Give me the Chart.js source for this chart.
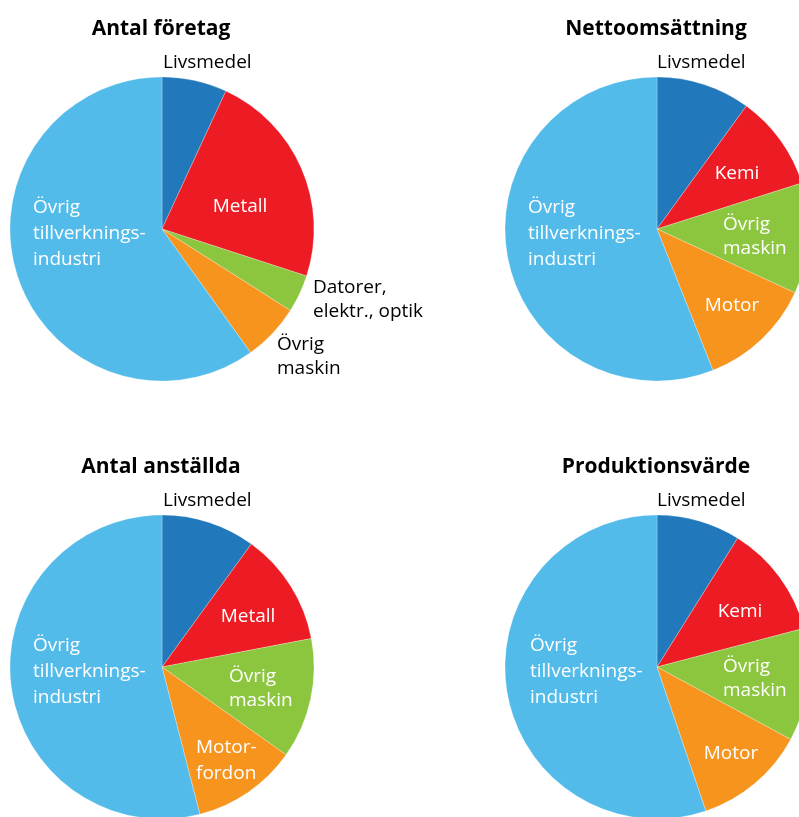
<!DOCTYPE html>
<html lang="sv">

<head>
    <meta charset="UTF-8" />
    <title>Tillverkningsindustri</title>
    <script src="https://cdn.jsdelivr.net/npm/chart.js"></script>
    <style>
        html,
        body {
            margin: 0;
            width: 799px;
            height: 817px;
            overflow: hidden;
            background: #fff;
        }

        body {
            position: relative;
        }

        canvas {
            position: absolute;
        }

        #c1 { left: -38px; top: 0; }
        #c2 { left: 457px; top: 0; }
        #c3 { left: -38px; top: 438px; }
        #c4 { left: 457px; top: 438px; }
    </style>
</head>

<body>
    <canvas id="c1" width="500" height="400"></canvas>
    <canvas id="c2" width="500" height="400"></canvas>
    <canvas id="c3" width="500" height="400"></canvas>
    <canvas id="c4" width="500" height="400"></canvas>

    <script>
        // ===== Data (andel i procent, avläst) =====
        const titles = ['Antal företag', 'Nettoomsättning', 'Antal anställda', 'Produktionsvärde'];

        const categories1 = ['Livsmedel', 'Metall', 'Datorer, elektr., optik', 'Övrig maskin', 'Övrig tillverkningsindustri'];
        const categories2 = ['Livsmedel', 'Kemi', 'Övrig maskin', 'Motor', 'Övrig tillverkningsindustri'];
        const categories3 = ['Livsmedel', 'Metall', 'Övrig maskin', 'Motorfordon', 'Övrig tillverkningsindustri'];
        const categories4 = ['Livsmedel', 'Kemi', 'Övrig maskin', 'Motor', 'Övrig tillverkningsindustri'];

        const values1 = [6.9, 23.1, 4.0, 6.1, 59.9];
        const values2 = [10.0, 10.1, 11.8, 12.1, 56.0];
        const values3 = [10.0, 12.0, 12.8, 11.2, 54.0];
        const values4 = [8.9, 12.0, 12.0, 11.9, 55.2];

        // etiketter som de står i bilden
        const lines1 = [['Livsmedel'], ['Metall'], ['Datorer,', 'elektr., optik'], ['Övrig', 'maskin'], ['Övrig', 'tillverknings-', 'industri']];
        const lines2 = [['Livsmedel'], ['Kemi'], ['Övrig', 'maskin'], ['Motor'], ['Övrig', 'tillverknings-', 'industri']];
        const lines3 = [['Livsmedel'], ['Metall'], ['Övrig', 'maskin'], ['Motor-', 'fordon'], ['Övrig', 'tillverknings-', 'industri']];
        const lines4 = [['Livsmedel'], ['Kemi'], ['Övrig', 'maskin'], ['Motor'], ['Övrig', 'tillverknings-', 'industri']];

        const colors = ['#2179bc', '#ed1c24', '#8cc63f', '#f7941d', '#52bbea'];

        // ===== Placering av etiketter (relativt cirkelns mitt) =====
        const place1 = [
            { dx: 1, dy: -161, align: 'left', inside: false, lh: 24 },
            { dx: 78, dy: -17, align: 'center', inside: true, lh: 24 },
            { dx: 151, dy: 64, align: 'left', inside: false, lh: 24 },
            { dx: 115, dy: 121, align: 'left', inside: false, lh: 24 },
            { dx: -129, dy: -16, align: 'left', inside: true, lh: 26 }
        ];
        const place2 = [
            { dx: 0, dy: -161, align: 'left', inside: false, lh: 24 },
            { dx: 80, dy: -50, align: 'center', inside: true, lh: 24 },
            { dx: 66, dy: 1, align: 'left', inside: true, lh: 24 },
            { dx: 75, dy: 82, align: 'center', inside: true, lh: 24 },
            { dx: -129, dy: -16, align: 'left', inside: true, lh: 26 }
        ];
        const place3 = [
            { dx: 1, dy: -161, align: 'left', inside: false, lh: 24 },
            { dx: 86, dy: -45, align: 'center', inside: true, lh: 24 },
            { dx: 67, dy: 15, align: 'left', inside: true, lh: 24 },
            { dx: 34, dy: 86, align: 'left', inside: true, lh: 26 },
            { dx: -129, dy: -16, align: 'left', inside: true, lh: 26 }
        ];
        const place4 = [
            { dx: 0, dy: -161, align: 'left', inside: false, lh: 24 },
            { dx: 83, dy: -50, align: 'center', inside: true, lh: 24 },
            { dx: 66, dy: 5, align: 'left', inside: true, lh: 24 },
            { dx: 74, dy: 92, align: 'center', inside: true, lh: 24 },
            { dx: -127, dy: -16, align: 'left', inside: true, lh: 26 }
        ];

        // rubrik + etiketter ritas från cirkelns mittpunkt
        const sliceLabels = {
            id: 'sliceLabels',
            afterDatasetsDraw(chart, args, opts) {
                const arc = chart.getDatasetMeta(0).data[0];
                const cx = arc.x, cy = arc.y;
                const ctx = chart.ctx;
                ctx.save();
                ctx.textBaseline = 'alphabetic';
                ctx.fillStyle = '#000';
                ctx.textAlign = 'center';
                ctx.font = 'bold 21px "Open Sans"';
                ctx.fillText(opts.title, cx - 1, cy - 194);

                ctx.font = '19px "Open Sans"';
                opts.lines.forEach((lines, i) => {
                    const p = opts.place[i];
                    ctx.textAlign = p.align;
                    ctx.fillStyle = p.inside ? '#fff' : '#000';
                    lines.forEach((t, j) => ctx.fillText(t, cx + p.dx, cy + p.dy + j * p.lh));
                });
                ctx.restore();
            }
        };

        function makePie(id, title, labels, values, lines, place) {
            return new Chart(document.getElementById(id), {
                type: 'pie',
                data: {
                    labels: labels,
                    datasets: [{
                        data: values,
                        backgroundColor: colors,
                        borderColor: 'rgba(255, 255, 255, 0.5)',
                        borderWidth: 0.5,
                        hoverOffset: 0
                    }]
                },
                options: {
                    responsive: false,
                    animation: false,
                    events: [],
                    radius: 152,
                    layout: {
                        padding: { left: 48, right: 148, top: 77, bottom: 19 }
                    },
                    plugins: {
                        legend: { display: false },
                        tooltip: { enabled: false },
                        sliceLabels: { title: title, lines: lines, place: place }
                    }
                },
                plugins: [sliceLabels]
            });
        }

        makePie('c1', titles[0], categories1, values1, lines1, place1);
        makePie('c2', titles[1], categories2, values2, lines2, place2);
        makePie('c3', titles[2], categories3, values3, lines3, place3);
        makePie('c4', titles[3], categories4, values4, lines4, place4);
    </script>

</body>

</html>
